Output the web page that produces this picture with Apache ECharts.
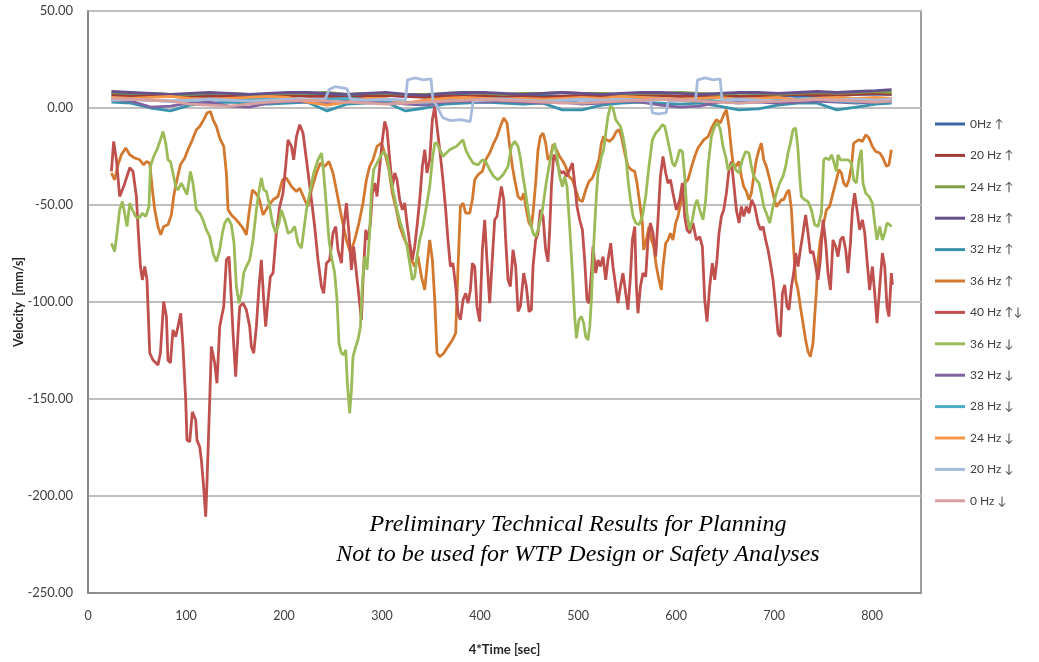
<!DOCTYPE html>
<html>
<head>
<meta charset="utf-8">
<script src="https://cdn.jsdelivr.net/npm/echarts@6/dist/echarts.min.js"></script>
<style>html,body{margin:0;padding:0;background:#fff;}#c{width:1039px;height:662px;}</style>
</head>
<body>
<div id="c"></div>
<script>
// ---- DATA ----
const seriesNames = ['0Hz \u2191','20 Hz \u2191','24 Hz \u2191','28 Hz \u2191','32 Hz \u2191','36 Hz \u2191','40 Hz \u2191\u2193','36 Hz \u2193','32 Hz \u2193','28 Hz \u2193','24 Hz \u2193','20 Hz \u2193','0 Hz \u2193'];
const xTicks = [0,100,200,300,400,500,600,700,800];
const yTicks = [50,0,-50,-100,-150,-200,-250];

const bandX = [24,44,64,84,104,124,144,164,184,204,224,244,264,284,304,324,344,364,384,404,424,444,464,484,504,524,544,564,584,604,624,644,664,684,704,724,744,764,784,804,820];
const v0up  = [7,6.5,6.5,6,6.5,6.5,6,6.5,6.5,6,6.5,6.5,6,6.5,6.5,6,6.5,6.5,6.5,6,6,6.5,6.5,6,6.5,6.5,6,6.5,6.5,6,6.5,6.5,6,6.5,6.5,6,6.5,6.5,7,7,7];
const v20up = [6.5,6,6.5,6,5.5,6,6,5.5,6,6.5,6,6,5.5,6,6.5,6,5.5,6,6,6.5,6,6,5.5,6,6.5,6,6.5,7,6.5,6,6,6.5,6,6,6.5,7,6.5,6.5,7,7.5,7];
const v24up = [8,7.5,7.5,7,7,7.5,7.5,7,7,7.5,7.5,8,7,7.5,7.5,7,7,7.5,8,7.5,7,7.5,7.5,8,7.5,7.5,7,7.5,7.5,8,7.5,7,7.5,7.5,7,7.5,8,7.5,8,8.5,8];
const v28up = [8.5,8,7.5,7,7.5,8,7.5,7,7.5,8,8,7.5,7,7.5,8,7,6.5,7.5,8,8,7.5,7,7.5,8,7.5,7,7.5,8,8,7.5,7,7.5,8,8,7.5,8,8.5,8,8.5,9,9.5];
const v32up = [3,2.5,0,-1.5,1.5,2.5,3,2.5,2,2.5,3,-1.5,2,2.5,3,-1.5,0,2,2.5,3,2.5,2,2.5,-1,-1,1.5,2.5,3,2.5,2,2.5,1,-1,-0.5,1.5,2.5,2.5,-1,0.5,2,2.5];
const v32dn = [4,3.5,0.5,1,2.5,3,1,0.5,2.5,3.5,3,2.5,3.5,3,3.5,2,1.5,3,3.5,3,3.5,3,2.5,3,2,2.5,3.5,3,1.5,0.5,1,3,3.5,3,2.5,3,3.5,3,2.5,3,3.5];
const v28dn = [5,4.5,4,3.5,4,4.5,4,4.5,5,4.5,4,4.5,5,4.5,4,3,2.5,4,4.5,5,4.5,4,4.5,3.5,2.5,3.5,4.5,5,4.5,4,4.5,3.5,2.5,3,4,4.5,5,3.5,3,4,4.5];
const v24dn = [5.5,5,5.5,6,5,4.5,5,5.5,6,5.5,3,1.5,3,5,5,2.5,4,5,5.5,5,4.5,5,4.5,5,5.5,5,6,5.5,5,4.5,5,5.5,4.5,5,5.5,4,5,5.5,5,5.5,5];
const v0dn  = [5,4.5,4,3.5,2,1.5,1,2,3,3.5,4,3.5,3,2.5,2,2.5,3,3.5,4,4.5,4,3.5,3,2.5,2.5,3,3.5,4,4.5,4,3.5,3,2.5,3,3.5,4,4.5,4,3.5,3,3.5];

const s20dn = [[24,4],[44,4.5],[64,4],[84,3.5],[104,4],[124,4.5],[144,4],[164,3.5],[184,4],[204,4.5],[224,4],[242,4.5],[246,9.5],[252,11],[258,10.5],[264,10],[268,4.5],[284,4],[304,4.5],[324,4],[326,14.5],[334,15.5],[342,14.5],[350,15],[352,4],[356,1],[362,-5],[370,-6.5],[380,-6],[390,-7],[393,3.5],[404,4],[424,4.5],[444,4],[464,3.5],[484,4],[504,4.5],[524,4],[544,4.5],[564,4],[574,3.5],[576,-2.5],[582,-3],[590,-2.5],[592,3.5],[604,4],[620,4],[622,14.5],[630,15.5],[638,14.5],[645,15],[647,4],[664,4.5],[684,4],[704,3.5],[724,4],[744,4.5],[764,4],[784,4.5],[804,4],[820,4.5]];

const s40 = [[23.9,-32.7],[26.2,-17.2],[29,-26.7],[32.3,-45.6],[36.4,-40.5],[42.6,-30.8],[45.9,-32.7],[49.4,-45.6],[51,-61.1],[53.5,-81.7],[55.5,-88.6],[57.9,-81.7],[60.2,-88.6],[63,-126.3],[66.3,-129.9],[71.4,-132.5],[73.9,-126.3],[77.2,-99.8],[80,-107.5],[81.6,-129.9],[84.1,-131.4],[86.7,-114.4],[89.5,-117.9],[91.8,-112.7],[94.6,-105.8],[96.9,-123],[99.7,-150.5],[101,-171.2],[103.8,-172],[106.5,-156.6],[109.9,-160.8],[111.2,-171.2],[114,-174.6],[115.7,-181.5],[118,-195.3],[120.1,-210.7],[121.4,-193.5],[124.2,-150.5],[125.9,-123],[129.3,-131.6],[131.6,-141.9],[134.4,-112.7],[137.1,-105.8],[138.5,-102.4],[141.2,-78.3],[143.9,-76.6],[146.3,-98.9],[148,-116.1],[150.7,-138.5],[153.1,-116.1],[154.8,-102.4],[158.2,-100.6],[161.6,-104],[165,-112.7],[166.7,-123],[169.1,-126.4],[171.8,-112.7],[174.5,-92],[176.9,-78.3],[179.3,-98.9],[181.3,-112.7],[183.7,-98.9],[186.1,-86.9],[188.8,-85.1],[190.5,-74.8],[192.2,-64.5],[195.6,-50.8],[199,-43.9],[201.7,-30.1],[204.1,-16.4],[207.6,-19.8],[209.9,-26.7],[212.7,-14.7],
[216,-8.6],[219.4,-12.9],[222.9,-26.7],[228,-47.3],[231.3,-61.1],[234.7,-78.3],[238.2,-92],[240.5,-95.5],[243.3,-80],[246.6,-78.3],[250,-64.5],[252.8,-61.1],[255.1,-73.1],[258.6,-80],[260.9,-61.1],[263.7,-49],[266.3,-64.5],[268.8,-83.4],[271.1,-71.4],[273.9,-85.1],[276.5,-97.2],[279,-109.2],[280.6,-88.6],[283.4,-62.8],[285.7,-68],[288.2,-59.3],[290.2,-43.9],[292.6,-38.7],[294.9,-45.6],[297.7,-30.1],[300.4,-16.4],[302.8,-6.9],[305.1,-11.2],[307.9,-26.7],[310.6,-40.5],[313,-33.5],[315.3,-37],[318.1,-47.3],[320.8,-52.5],[323.2,-49],[325.5,-59.3],[328.3,-69.7],[331,-78.3],[333.4,-71.4],[335.7,-61.1],[338.5,-47.3],[341.2,-30.1],[343.6,-21.5],[345.9,-33.5],[348.7,-26.7],[351.4,-6],[353.8,0.8],[356.1,-9.5],[358.9,-21.5],[362.2,-37],[365,-52.5],[367.3,-68],[369.8,-81.7],[372.4,-80],[375.2,-92],[377.6,-105.8],[380,-109.2],[382.7,-98.9],[385.4,-95.5],[387.8,-100.6],[390.2,-93.8],[392.2,-80],[394.6,-81.7],[396.9,-102.4],[399.7,-110.1],[402.4,-73.1],[404.8,-57.6],[407.1,-78.3],[409.9,-100.6],[412.7,-76.6],[415,-57.6],[417.3,-55.9],
[421.8,-40.5],[424.2,-47.3],[426.2,-68],[428.6,-88.6],[431,-92],[433.7,-73.1],[436.4,-81.7],[438.8,-104.9],[441.2,-102.4],[444.6,-85.1],[447.3,-92],[450,-104.9],[452.4,-104],[454.1,-81.7],[456.8,-68],[459.2,-64.5],[461.6,-52.5],[464.3,-55.9],[467,-73.1],[469.4,-79.2],[471.1,-62.8],[472.9,-40.5],[475.2,-24.1],[478,-26.7],[480.6,-31.8],[483.1,-33.5],[485.4,-32.7],[488.2,-35.3],[491.5,-31.8],[494.3,-28.4],[496.6,-38.7],[499,-50.8],[501.7,-57.6],[504.5,-62.8],[506.8,-78.3],[509.2,-98.9],[511.2,-100.6],[513.7,-85.1],[515.3,-71.4],[518.1,-85.1],[520.4,-78.3],[522.9,-81.7],[525.5,-76.6],[528.3,-88.6],[530.6,-78.3],[533.4,-69.7],[535.7,-81.7],[538.5,-92],[540.8,-100.6],[543.3,-92],[545.9,-85.1],[548.7,-95.5],[551,-104],[553.5,-86.9],[555.5,-68],[557.9,-61.1],[559.6,-92],[561.2,-105.8],[563.7,-92],[566.3,-85.1],[569.1,-86.9],[571.4,-68],[573.9,-59.3],[576.5,-64.5],[579.3,-76.6],[581.6,-57.6],[584.1,-35.3],[586.7,-25],[589.5,-33.5],[591.8,-38.7],[594.3,-37],[596.9,-43.9],[600.4,-52.5],[603.8,-47.3],[606.5,-38.7],[608.9,-55.9],[611.2,-62.8],[614,-64.5],[617.3,-59.3],[620.8,-68],
[624.2,-66.3],[626.9,-71.4],[629.3,-98.9],[631.6,-110.1],[634.4,-92],[637.1,-80],[639.5,-88.6],[641.8,-78.3],[643.9,-64.5],[646.3,-55.9],[648.7,-52.5],[651.4,-43.9],[654.1,-31.8],[656.5,-27.6],[658.9,-38.7],[661.6,-52.5],[664.3,-59.3],[666.7,-50.8],[669.1,-55.9],[671.8,-50.8],[674.5,-54.2],[677.2,-47.3],[680.3,-50.8],[683.7,-59.3],[686.2,-62.8],[688.8,-61.1],[691.5,-68],[693.9,-73.1],[696.3,-80],[699,-88.6],[701.7,-102.4],[704.1,-116.1],[706.5,-117.9],[708.6,-95.5],[710.9,-91.2],[713.3,-102.4],[715.3,-104],[717.8,-92],[720.1,-85.1],[722.1,-74.8],[724.5,-81.7],[726.9,-73.1],[729.6,-64.5],[732.3,-55.1],[734.7,-64.5],[737.1,-74.8],[739.8,-74],[742.6,-81.7],[744.9,-88.6],[747.3,-78.3],[750,-57.6],[752.8,-69.7],[755.1,-85.1],[757.6,-93.8],[760.2,-68],[763,-71.4],[765.3,-76.6],[767.8,-68],[770.4,-66.3],[773.2,-73.1],[775.5,-85.1],[778,-69.7],[780,-52.5],[782.3,-43.9],[784.7,-52.5],[787.4,-62.8],[790.2,-57.6],[792.6,-64.5],[794.9,-78.3],[797.6,-93.8],[800.4,-81.7],[802.8,-95.5],[805.1,-110.9],[807.9,-92],[810.6,-74.8],[813,-81.7],[815.3,-102.4],[817.3,-107.5],[819.8,-85.1],[820.8,-91.2]];

const s36up = [[23.9,-33.5],[27.2,-37],[30.6,-29.3],[34.1,-24.1],[38.5,-20.6],[42.6,-24.1],[47.7,-25.8],[52.8,-26.7],[56.8,-29.3],[59.6,-27.6],[63,-28.4],[65.7,-42.2],[68.1,-52.5],[71.4,-61.1],[74.2,-65.4],[77.2,-61.1],[81.6,-60.2],[85.1,-55.1],[87.4,-45.6],[90.8,-37],[94.3,-29.3],[98.7,-25.8],[102,-21.5],[106.5,-16.4],[110.6,-11.2],[114,-9.5],[118.1,-6],[121.4,-2.6],[124.9,-1.8],[127.6,-6],[131,-9.5],[134.4,-15.5],[138.5,-19.8],[141.2,-33.5],[142.9,-52.5],[146.3,-55.1],[149.7,-56.8],[154.1,-59.3],[158.2,-61.9],[161.6,-65.4],[164.3,-54.2],[167.8,-42.2],[171.1,-43.9],[174.5,-46.4],[178.6,-55.1],[183.7,-50.8],[188.8,-47.3],[193.9,-45.6],[198.4,-37],[202.4,-36.1],[207.6,-40.5],[212.7,-43],
[216,-41.3],[221.1,-47.3],[224.5,-50.8],[228,-42.2],[233.1,-33.5],[237.1,-28.4],[241.5,-30.1],[245.9,-27.6],[250,-33.5],[254.1,-43.9],[258.6,-55.9],[263.7,-68],[267.8,-74.8],[272.1,-68],[276.5,-59.3],[280.6,-49],[284.1,-37],[287.4,-30.1],[290.8,-26.7],[294.9,-19.8],[299.4,-18.1],[303.8,-25],[307.1,-31.8],[310.6,-43.9],[314.7,-52.5],[318.1,-61.1],[323.2,-68],[326.5,-71.4],[330,-78.3],[333.4,-81.7],[336.7,-76.6],[340.2,-86.9],[343.6,-93.8],[345.9,-81.7],[348.7,-68],[351.4,-78.3],[353.8,-98.9],[356.1,-126.4],[358.9,-128.2],[363,-126.4],[367.3,-123],[371.8,-119.6],[375.2,-116.1],[377.6,-81.7],[380,-50.8],[382.7,-49],[385.4,-54.2],[389.5,-54.2],[392.2,-47.3],[394.6,-37],[398,-34.4],[402.4,-32.7],[405.8,-26.7],[409.9,-23.2],[414,-18.1],[417.3,-14.7],[420.8,-9.5],[424.2,-5.2],
[427.6,-7.7],[430.3,-19.8],[433,-30.1],[435.4,-37],[438.8,-45.6],[442.2,-47.3],[444.6,-43.9],[447.3,-52.5],[450,-59.3],[452.4,-61.1],[454.1,-54.2],[456.8,-38.7],[459.2,-21.5],[461.6,-14.7],[464.3,-12.9],[467,-18.1],[469.4,-26.7],[471.9,-25],[474.5,-18.9],[478,-21.5],[481.3,-25],[484.7,-27.6],[487.4,-30.1],[490.8,-35.3],[494.3,-37],[497.7,-42.2],[501,-47.3],[504.5,-48.2],[507.9,-42.2],[511.2,-37.9],[514.7,-36.1],[518.1,-31.8],[521.4,-26.7],[523.9,-18.1],[526.2,-14.7],[529,-16.4],[532.3,-17.2],[535.7,-15.5],[539.2,-12.1],[541.8,-11.2],[544.3,-14.7],[547.7,-23.2],[551,-30.1],[554.5,-31.8],[557.9,-32.7],[560.2,-38.7],[563,-49],[565.7,-59.3],[567,-73.1],[569.8,-68],[572.4,-61.1],[574.9,-68],[577.2,-71.4],[580,-81.7],[582.6,-88.6],[585.1,-93.8],[586.7,-81.7],[589.5,-69.7],[591.8,-68],[594.3,-64.5],[596.9,-68],[599.7,-59.3],[602,-55.9],[605.5,-47.3],[608.9,-38.7],[612.2,-37],[615.7,-30.6],[619.1,-25],[622.4,-20.6],
[628.3,-16.4],[632.7,-14.7],[637.1,-9.5],[641.2,-6],[645.3,-7.7],[648.7,-3.5],[651.4,-0.9],[654.1,-9.5],[656.5,-21.5],[658.2,-28.4],[660.9,-30.1],[664.3,-27.6],[666.7,-35.3],[669.1,-40.5],[671.8,-43],[674.5,-47.3],[676.9,-43.9],[679.3,-35.3],[682,-26.7],[684.7,-21.5],[687.1,-18.1],[689.5,-26.7],[692.2,-30.1],[694.9,-35.3],[697.3,-40.5],[699.7,-45.6],[702.4,-50.8],[705.1,-49],[707.6,-47.3],[709.9,-47.3],[712.7,-43.9],[715.3,-42.2],[717.8,-52.5],[720.1,-73.1],[722.1,-88.6],[724.5,-93.8],[726.9,-102.4],[729.6,-110.9],[732.3,-119.6],[734.7,-125.6],[737.1,-128.2],[739.8,-121.3],[741.5,-107.5],[743.3,-93.8],[744.9,-78.3],[747.3,-68],[750,-61.1],[753.5,-52.5],[756.8,-50.8],[760.2,-43.9],[763.7,-37],[766.3,-31.8],[768.8,-33.5],[771.1,-38.7],[773.9,-40.5],[776.5,-37],[779,-30.1],[781.3,-18.1],[784.1,-17.2],[786.7,-16.4],[790.2,-17.2],[793.6,-13.8],[797,-15.5],[800.4,-19.8],[803.8,-22.4],[807.9,-23.2],[811.2,-25.8],[814.7,-30.1],[817.3,-29.3],[819.8,-21.5]];

const s36dn = [[23.9,-69.7],[27.2,-74],[29.6,-64.5],[32.3,-52.5],[35.1,-48.2],[37.4,-54.2],[39.8,-61.1],[42.6,-49],[45.3,-52.5],[48.7,-55.9],[52,-56.8],[55.5,-54.2],[58.9,-55.9],[62.2,-50.8],[63.7,-30.1],[67,-25],[70.4,-21.5],[73.9,-16.4],[76.5,-12.1],[79.3,-18.1],[81.6,-26.7],[84.1,-27.6],[86.7,-33.5],[89.5,-40.5],[91.8,-42.2],[95.3,-38.7],[98.7,-42.2],[101,-44.7],[104.5,-32.7],[107.1,-38.7],[110.6,-52.5],[114,-54.2],[117.3,-57.6],[120.8,-62.8],[124.2,-66.3],[127.6,-74.8],[131,-79.2],[134.4,-73.1],[137.1,-64.5],[139.5,-59.3],[142.9,-56.8],[146.3,-60.2],[149,-69.7],[151.4,-92],[154.1,-100.6],[156.5,-95.5],[158.9,-85.1],[161.6,-81.7],[165,-78.3],[168.4,-68],[171.8,-52.5],[174.5,-43],[176.9,-36.1],[179.3,-42.2],[182,-43],[184.7,-49],[188.2,-59.3],[191.5,-64.5],[194.9,-59.3],[197.3,-52.5],[200.7,-57.6],[204.1,-64.5],[207.6,-63.7],[210.9,-61.1],[214.3,-69.7],[217.8,-72.2],
[222.9,-52.5],[226.2,-43.9],[230.3,-33.5],[234.7,-26.7],[238.2,-23.2],[240.5,-33.5],[243.3,-50.8],[245.9,-68],[248.4,-76.6],[251.7,-85.1],[254.1,-98.9],[256.1,-121.3],[258.6,-126.4],[260.9,-127.3],[263,-124.7],[264.7,-141.9],[267,-157.4],[268.8,-145.4],[270.4,-128.2],[273.2,-123],[275.5,-119.6],[278,-112.7],[280,-90.3],[282.3,-76.6],[284.7,-83.4],[287.4,-64.5],[289.1,-43.9],[291.5,-31.8],[294.9,-28.4],[298.4,-25],[301.7,-22.4],[305.1,-25],[308.6,-35.3],[311.9,-43.9],[315.3,-52.5],[318.8,-59.3],[322.1,-64.5],[325.5,-71.4],[328.3,-80],[331,-88.6],[333.4,-86.9],[335.7,-76.6],[338.5,-68],[341.8,-61.1],[345.3,-50.8],[348.7,-40.5],[351.4,-26.7],[353.8,-18.1],[356.1,-18.1],[358.9,-21.5],[362.2,-25],[365.7,-23.2],[369.1,-21.5],[372.4,-20.6],[375.9,-19.8],[379.3,-18.1],[382.7,-16.4],[385.4,-21.5],[388.8,-25],[392.9,-28.4],[398,-29.3],[402.4,-26.7],[405.8,-27.6],[409.9,-31.8],[414,-35.3],[418.4,-37],[423.5,-34.4],
[428.6,-30.1],[432,-19.8],[435.4,-17.2],[438.8,-19.8],[441.2,-25.8],[443.9,-35.3],[446.6,-43.9],[449,-52.5],[451.4,-59.3],[454.1,-64.5],[456.8,-66.3],[460.2,-61.1],[463.7,-52.5],[467,-40.5],[470.4,-30.1],[473.9,-21.5],[476.2,-18.1],[478.6,-25],[481.3,-35.3],[484.1,-40.5],[486.4,-35.3],[488.8,-40.5],[491.5,-61.1],[494.3,-85.1],[496.6,-107.5],[498.4,-118.7],[501,-109.2],[503.5,-107.5],[505.8,-110.9],[507.9,-117.9],[510.2,-119.6],[512,-112.7],[513.7,-98.9],[515.3,-78.3],[517,-61.1],[518.7,-45.6],[520.4,-33.5],[522.1,-30.1],[523.9,-25],[526.2,-21.5],[528.3,-12.9],[530.6,-4.3],[533,0.8],[535.7,0],[538.5,-6],[540.8,-7.7],[543.3,-9.5],[545.9,-14.7],[548.7,-23.2],[551,-37],[553.5,-47.3],[556.2,-55.9],[558.9,-59.3],[562.2,-60.2],[565.7,-55.9],[569.1,-45.6],[572.4,-30.1],[575.9,-16.4],[579.3,-12.9],[582.6,-11.2],[586.1,-8.6],[588.5,-9.5],[590.8,-14.7],[593.6,-21.5],[596.4,-28.4],[598.7,-30.1],[601.1,-26.7],[603.8,-21.5],[606.5,-22.4],[608.9,-35.3],[611.2,-54.2],[614,-62.8],[616.7,-57.6],[619.1,-50.8],[621.5,-47.3],
[624.2,-52.5],[627.6,-57.6],[630.3,-47.3],[632.7,-30.1],[636.1,-14.7],[639.5,-9.5],[642.8,-7.7],[645.3,-11.2],[647.9,-19.8],[650.7,-25],[653.1,-31.8],[655.5,-30.1],[658.2,-28.4],[660.9,-31.8],[664.3,-33.5],[667.7,-26.7],[671.1,-22.4],[674.5,-23.2],[676.9,-30.1],[679.3,-35.3],[682,-37],[684.7,-38.7],[687.1,-43.9],[689.5,-50.8],[692.2,-54.2],[695.6,-59.3],[699,-50.8],[702.4,-43.9],[705.8,-38.7],[709.2,-35.3],[711.9,-30.1],[714.3,-23.2],[716.7,-18.1],[719.4,-11.2],[722.1,-10.3],[724.5,-21.5],[726.2,-35.3],[727.9,-45.6],[731.3,-47.3],[734.7,-48.2],[738.2,-52.5],[741.5,-60.2],[744.9,-61.1],[748.4,-54.2],[750.7,-26.7],[752.8,-25.8],[756.2,-26.7],[758.7,-24.1],[761,-27.6],[763.7,-32.7],[765.3,-24.1],[767.8,-26.7],[771.1,-26.7],[775.5,-26.7],[779,-28.4],[781.3,-37],[784.1,-38.7],[786.7,-26.7],[789.1,-21.5],[790.8,-38.7],[793.6,-43.9],[797,-45.6],[800.4,-49],[802.8,-59.3],[805.1,-68],[807.9,-61.1],[810.6,-68],[813,-64.5],[815.3,-59.3],[818,-60.2],[820,-61.1]];

const colors = ['#3A66A6','#A33B38','#7E9D45','#65508C','#3A93AC','#D2782F','#C0504D','#9BBB59','#8064A2','#4BACC6','#F79646','#A7BCDD','#D9A0A0'];

function zipBand(vals){ return bandX.map((x,i)=>[x,vals[i]]); }
const seriesData = [zipBand(v0up), zipBand(v20up), zipBand(v24up), zipBand(v28up), zipBand(v32up), s36up, s40, s36dn, zipBand(v32dn), zipBand(v28dn), zipBand(v24dn), s20dn, zipBand(v0dn)];

const chart = echarts.init(document.getElementById('c'), null, {renderer:'canvas'});
const FONT = 'Lato, "Open Sans", sans-serif';
const NOTE_FONT = 'italic 24px "Liberation Serif", "DejaVu Serif", serif';
chart.setOption({
  animation: false,
  backgroundColor: '#fff',
  color: colors,
  grid: {left: 88, right: 118, top: 11, bottom: 69, show: true, borderColor: '#7F7F7F', borderWidth: 1.5, containLabel: false, outerBoundsMode: 'none'},
  legend: {
    data: seriesNames, orient: 'vertical', left: 935, top: 117, padding: 0,
    icon: 'rect', itemWidth: 30, itemHeight: 3, itemGap: 17.4,
    textStyle: {fontFamily: FONT, fontSize: 12, color: '#404040', lineHeight: 14}
  },
  xAxis: {
    type: 'value', min: 0, max: 850, interval: 100,
    name: '4*Time [sec]', nameLocation: 'middle', nameGap: 50, nameMoveOverlap: false,
    nameTextStyle: {fontFamily: FONT, fontSize: 13, fontWeight: 'bold', color: '#262626'},
    axisLine: {show: true, onZero: false, lineStyle: {color: '#7F7F7F', width: 1.5}},
    axisTick: {show: false},
    axisLabel: {showMaxLabel: false, fontFamily: FONT, fontSize: 12.5, color: '#404040', margin: 16,
      formatter: v => xTicks.indexOf(v) >= 0 ? String(v) : ''},
    splitLine: {show: false}
  },
  yAxis: {
    type: 'value', min: -250, max: 50, interval: 50,
    name: 'Velocity  [mm/s]', nameLocation: 'middle', nameGap: 63, nameRotate: 90, nameMoveOverlap: false,
    nameTextStyle: {fontFamily: FONT, fontSize: 12.5, fontWeight: 'bold', color: '#262626'},
    axisLine: {show: true, lineStyle: {color: '#7F7F7F', width: 1.5}},
    axisTick: {show: false},
    axisLabel: {fontFamily: FONT, fontSize: 13, color: '#404040', margin: 15,
      formatter: v => yTicks.indexOf(v) >= 0 ? v.toFixed(2) : ''},
    splitLine: {show: true, lineStyle: {color: '#BFBFBF', width: 1.8}}
  },
  graphic: [
    {type: 'text', x: 578, y: 525, z: 100, style: {text: 'Preliminary Technical Results for Planning', font: NOTE_FONT, fill: '#000', align: 'center', verticalAlign: 'middle', textAlign: 'center', textVerticalAlign: 'middle'}},
    {type: 'text', x: 578, y: 555, z: 100, style: {text: 'Not to be used for WTP Design or Safety Analyses', font: NOTE_FONT, fill: '#000', align: 'center', verticalAlign: 'middle', textAlign: 'center', textVerticalAlign: 'middle'}}
  ],
  series: seriesNames.map((n,i)=>({
    name: n, type: 'line', data: seriesData[i], showSymbol: false, symbol: 'none',
    lineStyle: {width: 2.8, color: colors[i]}, itemStyle: {color: colors[i]},
    emphasis: {disabled: true}, z: 2
  }))
});
</script>
</body>
</html>
